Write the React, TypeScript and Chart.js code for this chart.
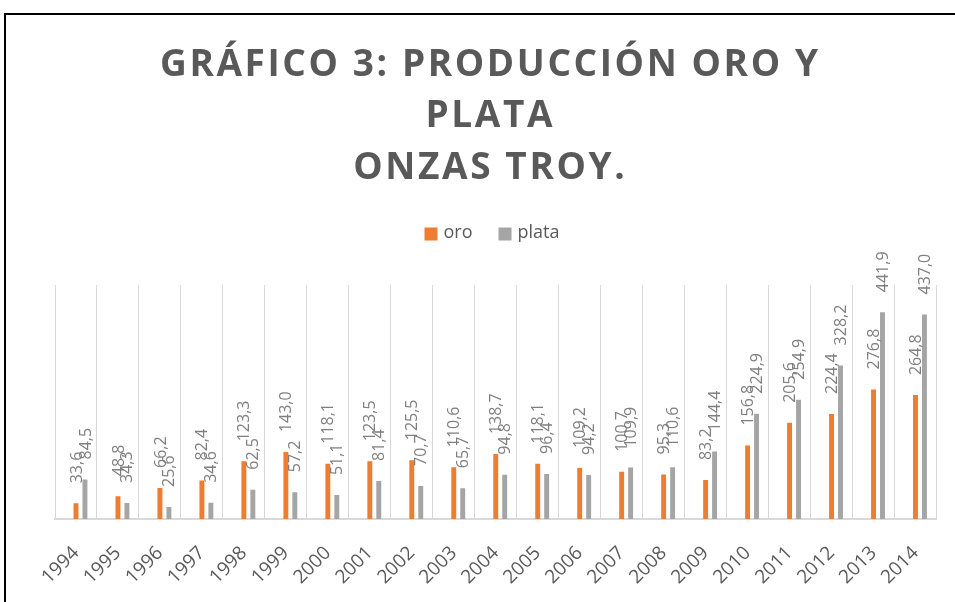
import React, { useEffect, useRef } from 'react';
import { Chart, registerables } from 'chart.js';

Chart.register(...registerables);

const years = ['1994', '1995', '1996', '1997', '1998', '1999', '2000', '2001', '2002', '2003', '2004', '2005', '2006', '2007', '2008', '2009', '2010', '2011', '2012', '2013', '2014'];
const oro = [33.6, 48.8, 66.2, 82.4, 123.3, 143.0, 118.1, 123.5, 125.5, 110.6, 138.7, 118.1, 109.2, 100.7, 95.3, 83.2, 156.8, 205.6, 224.4, 276.8, 264.8];
const plata = [84.5, 34.3, 25.6, 34.6, 62.5, 57.2, 51.1, 81.4, 70.7, 65.7, 94.8, 96.4, 94.2, 109.9, 110.6, 144.4, 224.9, 254.9, 328.2, 441.9, 437.0];
// empty leading series (occupies the first slot of each group, as in the original)
const emptySeries = years.map(() => null);
const seriesNames = ['oro', 'plata'];
const seriesColors = ['#ED7D31', '#A5A5A5'];
const titleLines = ['GRÁFICO 3: PRODUCCIÓN ORO Y', 'PLATA', 'ONZAS TROY.'];

const FONT = "'Open Sans', sans-serif";
const fmt = (v: number) => v.toFixed(1).replace('.', ',');

export default function App() {
  const ref = useRef<HTMLCanvasElement>(null);

  useEffect(() => {
    const canvas = ref.current!;

    const barLabels = {
      id: 'barLabels',
      afterDatasetsDraw(chart: any) {
        const ctx = chart.ctx;
        ctx.save();
        ctx.font = `16px ${FONT}`;
        ctx.fillStyle = '#7f7f7f';
        ctx.textAlign = 'left';
        ctx.textBaseline = 'middle';
        [1, 2].forEach((di) => {
          const meta = chart.getDatasetMeta(di);
          const data = chart.data.datasets[di].data as number[];
          meta.data.forEach((bar: any, i: number) => {
            const v = data[i];
            if (v == null) return;
            ctx.save();
            ctx.translate(bar.x + 1, bar.y - 20);
            ctx.rotate(-Math.PI / 2);
            ctx.fillText(fmt(v), 0, 0);
            ctx.restore();
          });
        });
        ctx.restore();
      },
    };

    const titleLegend = {
      id: 'titleLegend',
      afterDraw(chart: any) {
        const ctx = chart.ctx;
        ctx.save();
        // title
        ctx.font = `bold 37px ${FONT}`;
        ctx.fillStyle = '#595959';
        ctx.textBaseline = 'alphabetic';
        ctx.textAlign = 'left';
        (ctx as any).letterSpacing = '0px';
        const w0 = ctx.measureText(titleLines[0]).width;
        const spacing = (658 - w0) / (titleLines[0].length - 1);
        const widths = titleLines.map((l) => ctx.measureText(l).width + spacing * (l.length - 1));
        (ctx as any).letterSpacing = `${spacing}px`;
        const cx = 489;
        const baselines = [76, 127, 179];
        titleLines.forEach((l, i) => {
          ctx.fillText(l, cx - widths[i] / 2, baselines[i]);
        });
        (ctx as any).letterSpacing = '0px';

        // legend
        ctx.font = `18px ${FONT}`;
        ctx.textBaseline = 'middle';
        const box = 13;
        const gapBoxText = 6;
        const gapItems = 26;
        const itemWidths = seriesNames.map((n) => box + gapBoxText + ctx.measureText(n).width);
        const total = itemWidths.reduce((a, b) => a + b, 0) + gapItems * (seriesNames.length - 1);
        let x = 492 - total / 2;
        const cy = 234;
        seriesNames.forEach((n, i) => {
          ctx.fillStyle = seriesColors[i];
          ctx.fillRect(x, cy - box / 2, box, box);
          ctx.fillStyle = '#595959';
          ctx.fillText(n, x + box + gapBoxText, cy - 1);
          x += itemWidths[i] + gapItems;
        });
        ctx.restore();
      },
    };

    const chart = new Chart(canvas, {
      type: 'bar',
      data: {
        labels: years,
        datasets: [
          { label: '', data: emptySeries as any, backgroundColor: 'transparent' },
          { label: seriesNames[0], data: oro, backgroundColor: seriesColors[0] },
          { label: seriesNames[1], data: plata, backgroundColor: seriesColors[1] },
        ],
      },
      options: {
        responsive: false,
        animation: false,
        datasets: { bar: { categoryPercentage: 0.64, barPercentage: 0.55 } },
        layout: { padding: { left: 55, right: 16, top: 285, bottom: 0 } },
        plugins: {
          legend: { display: false },
          title: { display: false },
          tooltip: { enabled: false },
        },
        scales: {
          x: {
            grid: { display: true, color: '#d9d9d9', lineWidth: 1, drawTicks: false, offset: true },
            border: { display: true, color: '#d9d9d9', width: 2 },
            ticks: {
              autoSkip: false,
              minRotation: 45,
              maxRotation: 45,
              padding: 23,
              color: '#595959',
              font: { family: FONT, size: 19 },
            },
            afterFit: (scale: any) => {
              scale.height = 83;
            },
          },
          y: {
            display: false,
            min: 0,
            max: 500,
          },
        },
      },
      plugins: [barLabels, titleLegend],
    });

    return () => chart.destroy();
  }, []);

  return (
    <div style={{ position: 'fixed', left: 0, top: 0, width: 955, height: 602, overflow: 'hidden', background: '#fff' }}>
      <canvas ref={ref} width={955} height={602} style={{ position: 'absolute', left: 0, top: 0, width: 955, height: 602 }} />
      <div
        style={{
          position: 'absolute',
          left: 4,
          top: 13,
          width: 1000,
          height: 700,
          borderLeft: '2px solid #000',
          borderTop: '2px solid #000',
          pointerEvents: 'none',
        }}
      />
    </div>
  );
}
